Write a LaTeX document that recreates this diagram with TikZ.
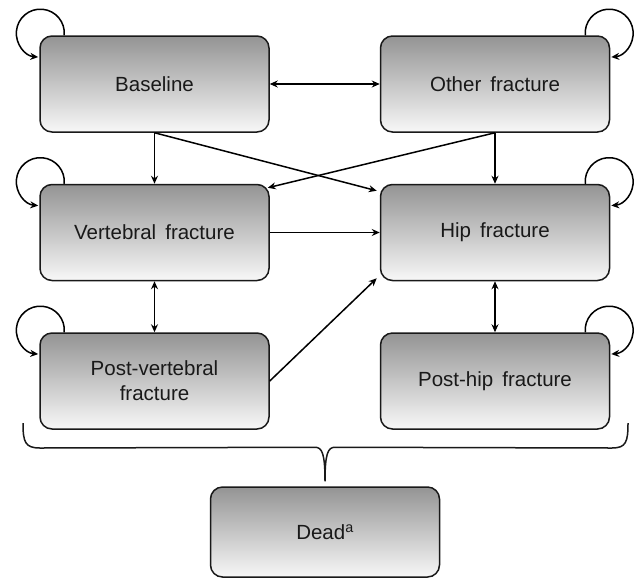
\documentclass[tikz,border=0pt]{standalone}
\usepackage{fontspec}
\setmainfont{Liberation Sans}
\usetikzlibrary{arrows.meta,calc}
\begin{document}
\begin{tikzpicture}[x=1pt,y=1pt,
  state/.style={draw=black!90, line width=1.5pt, rounded corners=12pt,
    minimum width=229pt, minimum height=96pt, inner sep=0pt,
    top color=black!42, bottom color=black!3, align=center,
    font=\fontsize{20.5}{25}\selectfont, text=black!90},
  conn/.style={line width=1.5pt, -{Stealth[length=8pt,width=7pt]}},
  biconn/.style={line width=1.5pt, {Stealth[length=8pt,width=7pt]}-{Stealth[length=8pt,width=7pt]}},
  loopl/.style={line width=1.5pt, -{Stealth[length=8pt,width=7pt]}},
  bracestyle/.style={line width=1.5pt, draw=black!90}]
\useasboundingbox (0,0) rectangle (636,-579);

\node[state] (b)  at (154.5,-84)  {Baseline};
\node[state] (o)  at (495,-84)    {Other\, fracture};
\node[state] (v)  at (154.5,-232.5) {Vertebral\, fracture};
\node[state] (h)  at (495,-232.5) {Hip\, fracture};
\node[state] (pv) at (154.5,-381) {Post-vertebral\\fracture};
\node[state] (ph) at (495,-381)   {Post-hip\, fracture};
\node[state, minimum height=90pt] (d) at (325,-532) {Dead\textsuperscript{a}};

% self loops
\foreach \n in {b,v,pv}
  \draw[loopl] ($(\n.north west)+(25,0)$) arc[start angle=-5, end angle=265, radius=24];
\foreach \n in {o,h,ph}
  \draw[loopl] ($(\n.north east)+(-25,0)$) arc[start angle=185, end angle=-85, radius=24];

% transitions
\draw[biconn] (b.east) -- (o.west);
\draw[conn] (b.south) -- (v.north);
\draw[conn] (o.south) -- (h.north);
\draw[conn] (b.south) -- ($(h.north west)+(-3,-7)$);
\draw[conn] (o.south) -- ($(v.north east)+(-2,-4)$);
\draw[conn] (v.east) -- (h.west);
\draw[biconn] (v.south) -- (pv.north);
\draw[biconn] (h.south) -- (ph.north);
\draw[conn] (pv.east) -- ($(h.south west)+(-3,3)$);

% brace
\coordinate (tip) at ($(d.north)+(0,5)$);
\draw[bracestyle] (23,-423) .. controls (23,-442) and (25,-448) .. (40,-448)
  -- ($(tip)+(-10,34)$) .. controls ($(tip)+(-3,34)$) and ($(tip)+(0,28)$) .. (tip)
  .. controls ($(tip)+(0,28)$) and ($(tip)+(3,34)$) .. ($(tip)+(10,34)$)
  -- (612,-448) .. controls (626,-448) and (628,-442) .. (628,-423);
\end{tikzpicture}
\end{document}
